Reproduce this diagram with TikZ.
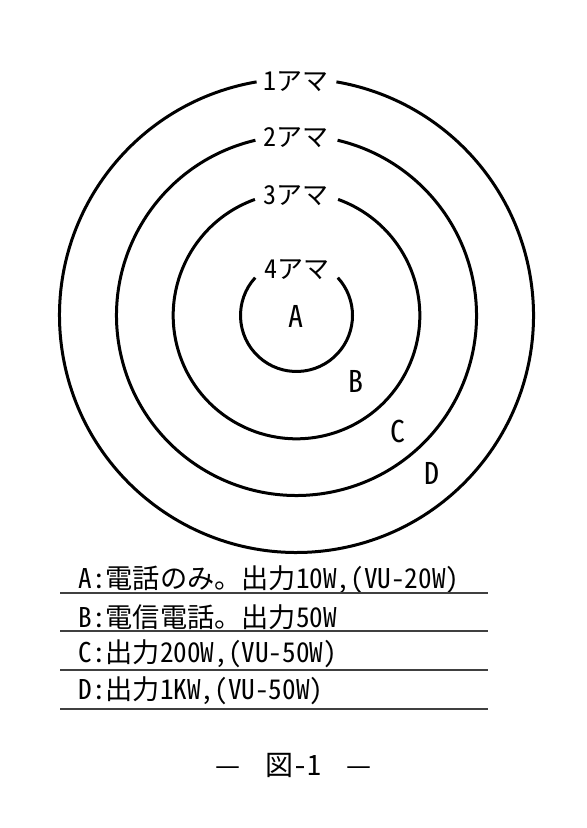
\documentclass[tikz,border=0pt]{standalone}
\usepackage{fontspec}
\setmainfont{Noto Sans CJK JP}[RawFeature=+hwid]
\tikzset{
  ring/.style={line width=1.5pt},
  ringlabel/.style={inner sep=0pt, font=\fontsize{13}{15}\selectfont},
  zonelabel/.style={inner sep=0pt, font=\fontsize{15}{17}\selectfont},
  legend/.style={anchor=west, inner sep=0pt, font=\fontsize{13.6}{16}\selectfont},
  rule/.style={line width=1pt, black!75}
}
\begin{document}
\begin{tikzpicture}[x=0.5pt, y=0.5pt]
\useasboundingbox (0,0) rectangle (586,828);
\coordinate (c) at (296.5,512.5);

\foreach \r/\g in {237/9.7, 180/13.2, 123.3/19.7, 56/47.5}
{
  \draw[ring] (c) ++(90+\g:\r) arc[start angle=90+\g, end angle=450-\g, radius=\r];
}

\node[ringlabel] (ama1) at (296,746) {1アマ};
\node[ringlabel] (ama2) at (296,690) {2アマ};
\node[ringlabel] (ama3) at (296,632) {3アマ};
\node[ringlabel] (ama4) at (297,558) {4アマ};

\node[zonelabel] (zoneA) at (296,512) {A};
\node[zonelabel] (zoneB) at (356,447) {B};
\node[zonelabel] (zoneC) at (398,397) {C};
\node[zonelabel] (zoneD) at (432,355) {D};

\node[legend] (rowA) at (78,248) {A:電話のみ。出力10W,(VU-20W)};
\node[legend] (rowB) at (78,211) {B:電信電話。出力50W};
\node[legend] (rowC) at (78,174) {C:出力200W,(VU-50W)};
\node[legend] (rowD) at (78,137) {D:出力1KW,(VU-50W)};

\foreach \y in {235,196.5,158,119}
{
  \draw[rule] (60,\y) -- (488,\y);
}

\node[ringlabel, font=\fontsize{14}{16}\selectfont] (caption) at (293.5,63) {—\hspace{0.9em}図-1\hspace{0.9em}—};
\end{tikzpicture}
\end{document}
